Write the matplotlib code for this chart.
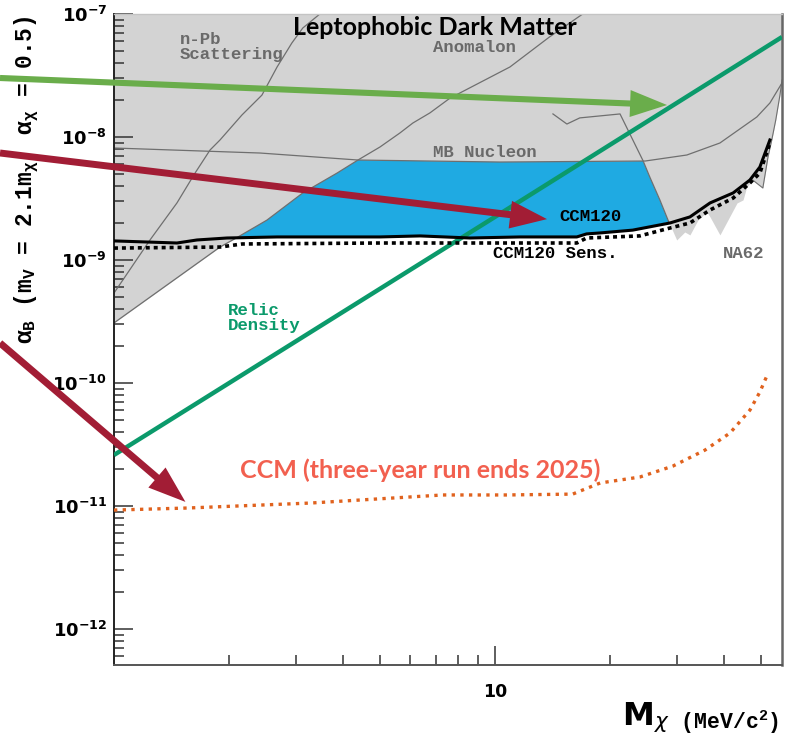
import numpy as np
import matplotlib.pyplot as plt
from matplotlib.ticker import FixedLocator, LogLocator, FuncFormatter, NullFormatter

# ---- data (M_chi in MeV/c^2, alpha_B) ----
npb_m = [1.0, 1.243, 1.463, 1.632, 1.787, 1.898, 2.167, 2.445, 2.68, 2.93, 3.13, 3.47]
npb_a = [5.39e-10, 1.455e-9, 2.91e-9, 5.09e-9, 7.84e-9, 9.46e-9, 1.51e-8, 2.19e-8,
         3.71e-8, 5.81e-8, 7.69e-8, 1.0e-7]

anom_m = [1.0, 1.898, 2.116, 2.52, 3.13, 3.85, 4.37, 4.99, 5.63, 6.09, 6.75, 7.62,
          10.95, 13.9, 17.0]
anom_a = [3.08e-10, 1.275e-9, 1.54e-9, 2.11e-9, 3.51e-9, 5.09e-9, 6.50e-9, 8.29e-9,
          1.078e-8, 1.30e-8, 1.57e-8, 2.07e-8, 3.71e-8, 6.5e-8, 1.0e-7]

mbn_m = [1.0, 2.416, 4.37, 10.3, 24.8, 31.9, 38.96, 48.7, 52.7, 56.7]
mbn_a = [8.14e-9, 7.41e-9, 6.50e-9, 6.26e-9, 6.38e-9, 7.14e-9, 8.94e-9, 1.455e-8,
         1.89e-8, 2.75e-8]

na62_m = [14.2, 15.45, 16.7, 21.3, 24.5, 25.5, 27.1, 28.6]
na62_a = [1.54e-8, 1.275e-8, 1.43e-8, 1.54e-8, 6.38e-9, 4.73e-9, 3.08e-9, 2.04e-9]

# lower edge of the previously excluded (grey) region
excl_m = [1.0, 1.898, 2.116, 2.52, 3.13, 3.85, 4.37, 6.36, 10.3, 17.0, 24.5, 25.5, 27.1,
          28.6, 30.0, 31.5, 32.5, 34.1, 36.0, 36.7, 38.96, 43.2, 44.8, 45.8, 47.5,
          50.5, 52.1, 53.3, 54.6, 56.0, 56.7]
excl_a = [3.08e-10, 1.275e-9, 1.54e-9, 2.11e-9, 3.51e-9, 5.09e-9, 6.50e-9, 6.38e-9,
          6.26e-9, 6.26e-9, 6.38e-9, 4.73e-9, 3.08e-9, 2.04e-9, 1.455e-9, 1.69e-9,
          1.60e-9, 2.11e-9, 2.46e-9, 2.24e-9, 1.60e-9, 2.91e-9, 3.08e-9, 3.92e-9,
          4.47e-9, 3.85e-9, 6.88e-9, 9.46e-9, 1.375e-8, 2.19e-8, 2.9e-8]

ccm120_m = [1.0, 1.463, 1.651, 1.98, 2.68, 4.99, 6.36, 8.60, 11.63, 16.4, 17.4, 18.9,
            23.0, 28.8, 32.5, 36.7, 42.2, 46.7, 49.6, 52.7]
ccm120_a = [1.43e-9, 1.375e-9, 1.455e-9, 1.51e-9, 1.54e-9, 1.54e-9, 1.57e-9, 1.51e-9,
            1.54e-9, 1.54e-9, 1.63e-9, 1.66e-9, 1.75e-9, 2.00e-9, 2.24e-9, 2.91e-9,
            3.51e-9, 4.47e-9, 5.70e-9, 9.46e-9]

sens_m = [1.0, 1.898, 2.17, 4.99, 8.60, 16.4, 17.4, 24.0, 28.8, 32.5, 36.7, 42.2, 46.7,
          49.6, 52.7]
sens_a = [1.25e-9, 1.275e-9, 1.35e-9, 1.375e-9, 1.375e-9, 1.375e-9, 1.51e-9, 1.57e-9,
          1.82e-9, 2.00e-9, 2.55e-9, 3.19e-9, 4.23e-9, 5.09e-9, 8.94e-9]

relic_m = [1.0, 10.0, 56.7]
relic_a = [2.60e-11, 2.24e-9, 6.5e-8]

ccm3yr_m = [1.0, 1.555, 3.27, 7.30, 10.75, 16.0, 17.0, 18.9, 24.0, 29.3, 35.6, 41.4,
            46.7, 49.6, 52.1]
ccm3yr_a = [9.27e-12, 9.63e-12, 1.057e-11, 1.23e-11, 1.23e-11, 1.25e-11, 1.35e-11,
            1.54e-11, 1.72e-11, 2.11e-11, 2.85e-11, 3.92e-11, 6.02e-11, 8.45e-11, 1.2e-10]

MONO = 'Liberation Mono'
GREY_LINE = '#6f6f6f'

plt.rcParams['font.family'] = ['DejaVu Sans']
plt.rcParams['mathtext.fontset'] = 'dejavusans'

fig = plt.figure(figsize=(7.88, 7.38), dpi=100)
ax = fig.add_axes([114 / 788, 73 / 738, 668 / 788, 651 / 738])
ax.set_xscale('log')
ax.set_yscale('log')
ax.set_xlim(1.0, 56.7)
ax.set_ylim(5.1e-13, 1e-7)

# excluded region and the new CCM120 region
ax.fill_between(excl_m, excl_a, 1e-7, color='#d3d3d3', lw=0, zorder=1)
em, ea = np.array(excl_m), np.array(excl_a)
cm, ca = np.array(ccm120_m), np.array(ccm120_a)
top = (em >= 2.116) & (em <= 28.6)
bot = (cm > 2.116) & (cm < 28.6)
ax.fill(np.r_[em[top], cm[bot][::-1]], np.r_[ea[top], ca[bot][::-1]],
        color='#1faae2', lw=0, zorder=1.5)

for xs, ys in [(npb_m, npb_a), (anom_m, anom_a), (mbn_m, mbn_a), (na62_m, na62_a)]:
    ax.plot(xs, ys, color=GREY_LINE, lw=0.9, zorder=2)
ax.plot(excl_m[24:], excl_a[24:], color=GREY_LINE, lw=0.8, zorder=2)

ax.plot(relic_m, relic_a, color='#0b9a6b', lw=3.2, zorder=3, solid_capstyle='butt')
ax.plot(ccm120_m, ccm120_a, color='black', lw=2.2, zorder=4)
ax.plot(sens_m, sens_a, color='black', lw=2.6, ls=(0, (1.1, 1.1)), zorder=4)
ax.plot(ccm3yr_m, ccm3yr_a, color='#e0621e', lw=2.4, ls=(0, (1.0, 1.6)), zorder=4)

# labels in the plot
grey_kw = dict(family=MONO, weight='bold', fontsize=12.5, color='#6a6a6a', zorder=5)
ax.text(1.49, 5.4e-8, 'n-Pb\nScattering', ha='left', va='center', linespacing=1.05, **grey_kw)
ax.text(6.88, 5.3e-8, 'Anomalon', ha='left', va='center', **grey_kw)
ax.text(6.88, 7.55e-9, 'MB Nucleon', ha='left', va='center', **grey_kw)
ax.text(39.7, 1.14e-9, 'NA62', ha='left', va='center', **grey_kw)
ax.text(14.8, 2.24e-9, 'CCM120', ha='left', va='center', family=MONO, weight='bold',
        fontsize=12.5, color='black', zorder=5)
ax.text(9.88, 1.14e-9, 'CCM120 Sens.', ha='left', va='center', family=MONO, weight='bold',
        fontsize=12.5, color='black', zorder=5)
ax.text(1.99, 3.37e-10, 'Relic\nDensity', ha='left', va='center', family=MONO,
        weight='bold', fontsize=12.5, color='#0b9a6b', linespacing=1.05, zorder=5)
ax.text(6.96, 7.7e-8, 'Leptophobic Dark Matter', ha='center', va='center', family='Lato',
        weight='bold', fontsize=18, color='black', zorder=5)
ax.text(2.14, 1.96e-11, 'CCM (three-year run ends 2025)', ha='left', va='center',
        family='Lato', weight='bold', fontsize=18, color='#f2604f', zorder=5)

# axis labels
ax.text(-0.131, 0.745, r'α$_\mathregular{B}$ (m$_\mathregular{V}$ = 2.1m$_\mathregular{χ}$, '
        r'α$_\mathregular{χ}$ = 0.5)', transform=ax.transAxes, rotation=90,
        ha='center', va='center', family=MONO, weight='bold', fontsize=16.5,
        clip_on=False, zorder=1)
ax.text(0.760, -0.092, 'M', transform=ax.transAxes, ha='left', va='baseline',
        fontsize=23, weight='bold', clip_on=False)
ax.text(0.808, -0.098, r'$\chi$ (MeV/c$^\mathregular{2}$)', transform=ax.transAxes,
        ha='left', va='baseline', family=MONO, weight='bold', fontsize=15.5, clip_on=False)

# arrows
arrows = [((28.3, 1.82e-8), (0, 660), '#6aad4b', 26.6, 19.4, 4.4),
          ((13.7, 2.15e-9), (0, 585), '#a21d35', 26.6, 20.0, 5.0),
          ((1.54, 1.08e-11), (0, 395), '#a21d35', 27.0, 19.0, 5.0)]
for tip, tail, col, hl, hw, tw in arrows:
    ax.annotate('', xy=tip, xycoords='data', xytext=tail, textcoords='figure pixels',
                annotation_clip=False, zorder=6,
                arrowprops=dict(arrowstyle=f'simple,head_length={hl},head_width={hw},tail_width={tw}',
                                mutation_scale=1, fc=col, ec='none', lw=0,
                                shrinkA=0, shrinkB=0))

# ticks
ax.xaxis.set_major_locator(FixedLocator([10]))
ax.xaxis.set_minor_locator(LogLocator(base=10, subs=np.arange(2, 10)))
ax.xaxis.set_minor_formatter(NullFormatter())
ax.xaxis.set_major_formatter(FuncFormatter(lambda v, p: '%d' % v))
ax.yaxis.set_major_locator(LogLocator(base=10, numticks=20))
ax.yaxis.set_minor_locator(LogLocator(base=10, subs=np.arange(2, 10), numticks=20))
ax.yaxis.set_minor_formatter(NullFormatter())
ax.yaxis.set_major_formatter(FuncFormatter(
    lambda v, p: r'$\mathbf{10^{%d}}$' % round(np.log10(v))))
ax.tick_params(which='both', direction='in', color='#333333', width=1.1,
               top=False, right=False)
ax.tick_params(which='major', length=14)
ax.tick_params(which='minor', length=7)
ax.tick_params(axis='y', which='major', labelsize=13, pad=5)
ax.tick_params(axis='x', which='major', labelsize=12.5, pad=13)
for lab in ax.get_xticklabels():
    lab.set_fontweight('bold')

ax.spines['left'].set_color('#222222')
ax.spines['left'].set_linewidth(1.4)
ax.spines['bottom'].set_color('#555555')
ax.spines['bottom'].set_linewidth(1.4)
ax.spines['right'].set_color('#666666')
ax.spines['right'].set_linewidth(1.8)
ax.spines['top'].set_color('#c4c4c4')
ax.spines['top'].set_linewidth(1.0)

fig.savefig('out.png', dpi=100, facecolor='white')
